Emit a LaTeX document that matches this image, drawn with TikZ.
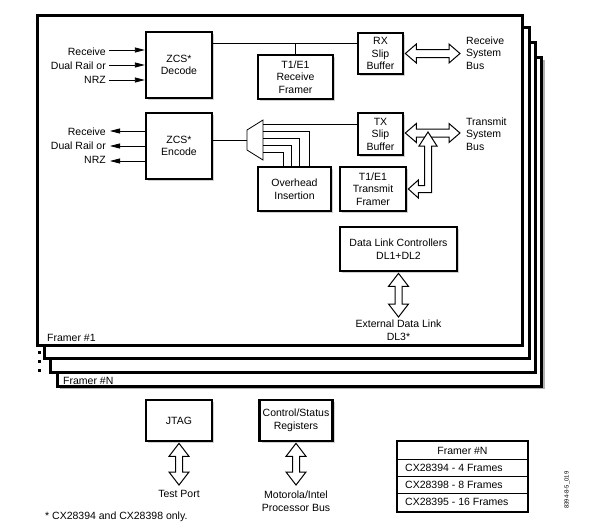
\documentclass[tikz,border=0pt]{standalone}
\usepackage{fontspec}
\setmainfont{Liberation Sans}
\usetikzlibrary{shadows,arrows.meta,calc}
\newcommand{\hdbl}[2]{\path[dbl] let \p1=(#1), \p2=(#2) in (\x1,\y1) -- (\x1+11pt,\y1+9.5pt) -- (\x1+11pt,\y1+4pt) -- (\x2-11pt,\y1+4pt) -- (\x2-11pt,\y1+9.5pt) -- (\x2,\y1) -- (\x2-11pt,\y1-9.5pt) -- (\x2-11pt,\y1-4pt) -- (\x1+11pt,\y1-4pt) -- (\x1+11pt,\y1-9.5pt) -- cycle;}
\newcommand{\vdbl}[2]{\path[dbl] let \p1=(#1), \p2=(#2) in (\x1,\y1) -- (\x1+10pt,\y1-13pt) -- (\x1+3.5pt,\y1-13pt) -- (\x1+3.5pt,\y2+13pt) -- (\x1+10pt,\y2+13pt) -- (\x1,\y2) -- (\x1-10pt,\y2+13pt) -- (\x1-3.5pt,\y2+13pt) -- (\x1-3.5pt,\y1-13pt) -- (\x1-10pt,\y1-13pt) -- cycle;}
\begin{document}
\begin{tikzpicture}[x=1pt,y=-1pt,
  every node/.style={font=\fontsize{10.5}{12.5}\selectfont, inner sep=0pt},
  blk/.style={draw, line width=2.3pt, fill=white, align=center,
    drop shadow={shadow xshift=2pt, shadow yshift=-2pt, fill=black!30, opacity=0.6}},
  frm/.style={draw, line width=3pt, fill=white},
  thinln/.style={line width=0.8pt},
  inarr/.style={line width=0.8pt, -{Triangle[length=10pt,width=5pt]}},
  dbl/.style={draw, line width=1pt, fill=white, line join=miter},
]
\useasboundingbox (0,0) rectangle (590,531);
% stacked framers
\fill[black!30] (60,60) rectangle (545,389);
\draw[frm] (57,57) rectangle (541,386);
\draw[frm] (50,42) rectangle (535,372);
\draw[frm] (44,27) rectangle (529,358);
\draw[frm] (37,15) rectangle (522,345);
\foreach \yy in {351,360,369} \fill (38,\yy) rectangle (40.5,\yy+2.5);
\node[anchor=west] (f1) at (47,338) {Framer \#1};
\node[anchor=west] (fn) at (63,381) {Framer \#N};

% blocks
\node[blk, minimum width=66pt, minimum height=66pt] (dec) at (179,65) {ZCS*\\Decode};
\node[blk, minimum width=66pt, minimum height=66pt] (enc) at (179,146) {ZCS*\\Encode};
\node[blk, minimum width=75pt, minimum height=44pt] (rxf) at (295.5,77) {T1/E1\\Receive\\Framer};
\node[blk, minimum width=45pt, minimum height=41pt] (rxs) at (380.5,53.5) {RX\\Slip\\Buffer};
\node[blk, minimum width=45pt, minimum height=42pt] (txs) at (380.5,134) {TX\\Slip\\Buffer};
\node[blk, minimum width=73pt, minimum height=44pt] (ohi) at (294.5,189) {Overhead\\Insertion};
\node[blk, minimum width=66pt, minimum height=44pt] (txf) at (373,189) {T1/E1\\Transmit\\Framer};
\node[blk, minimum width=117pt, minimum height=44pt] (dlc) at (398.5,249) {Data Link Controllers\\DL1+DL2};
\node[blk, minimum width=66pt, minimum height=41pt] (jtag) at (179,420.5) {JTAG};
\node[blk, minimum width=73pt, minimum height=41pt] (csr) at (296,420.5) {Control/Status\\Registers};

% line interfaces left
\node[anchor=east] (li1) at (106,52) {Receive};
\node[anchor=east] (li2) at (106,66) {Dual Rail or};
\node[anchor=east] (li3) at (106,80) {NRZ};
\coordinate (ia1) at (109,50); \coordinate (ia2) at (109,65); \coordinate (ia3) at (109,80);
\draw[inarr] (ia1) -- (dec.west |- ia1);
\draw[inarr] (ia2) -- (dec.west |- ia2);
\draw[inarr] (ia3) -- (dec.west |- ia3);
\node[anchor=east] (lo1) at (106,132) {Receive};
\node[anchor=east] (lo2) at (106,146) {Dual Rail or};
\node[anchor=east] (lo3) at (106,160) {NRZ};
\coordinate (oa1) at (110,131); \coordinate (oa2) at (110,146); \coordinate (oa3) at (110,161);
\draw[inarr] (enc.west |- oa1) -- (oa1);
\draw[inarr] (enc.west |- oa2) -- (oa2);
\draw[inarr] (enc.west |- oa3) -- (oa3);

% receive path
\draw[thinln] (dec.east |- 0,43) -- (rxs.west |- 0,43);
\draw[thinln] (rxf.north) -- (rxf.north |- 0,43);

% mux
\coordinate (mux) at (255,140);
\draw[thinln, fill=white] (247,130) -- (263,120) -- (263,160) -- (247,150) -- cycle;
\draw[thinln] (enc.east |- mux) -- (247,140);
\draw[thinln] (263,124) -- (txs.west |- 0,124);
\draw[thinln] (263,131) -| (ohi.north -| 309,0);
\draw[thinln] (263,138) -| (ohi.north -| 299,0);
\draw[thinln] (263,145) -| (ohi.north -| 291,0);
\draw[thinln] (263,152) -| (ohi.north -| 283,0);

% system bus arrows
\coordinate (rxbus) at (460,53.5);
\hdbl{[xshift=1.2pt]rxs.east}{rxbus}
\coordinate (txbus) at (460,133);
\hdbl{[xshift=1.2pt]txs.east |- txbus}{txbus}
\coordinate (txjoin) at (428,132);
\path[dbl] let \p1=(txjoin), \p2=([xshift=1.2pt]txf.east) in (\x1,\y1) -- (\x1+9pt,\y1-14pt) -- (\x1+3.5pt,\y1-14pt) -- (\x1+3.5pt,\y2-3.5pt) -- (\x2+10pt,\y2-3.5pt) -- (\x2+10pt,\y2-9pt) -- (\x2,\y2) -- (\x2+10pt,\y2+9pt) -- (\x2+10pt,\y2+3.5pt) -- (\x1-3.5pt,\y2+3.5pt) -- (\x1-3.5pt,\y1-14pt) -- (\x1-9pt,\y1-14pt) -- cycle;
\node[anchor=west, align=left] (rsb) at (466,53) {Receive\\System\\Bus};
\node[anchor=west, align=left] (tsb) at (466,134) {Transmit\\System\\Bus};

% data link
\coordinate (dle) at (398.5,317);
\vdbl{[yshift=-1.2pt]dlc.south}{dle}
\node[align=center] (edl) at (398.5,330) {External Data Link\\DL3*};

% bottom
\coordinate (tpe) at (179,485);
\vdbl{[yshift=-1.2pt]jtag.south}{tpe}
\node (tp) at (179,494) {Test Port};
\coordinate (mpe) at (296,485);
\vdbl{[yshift=-1.2pt]csr.south}{mpe}
\node[align=center] (mpb) at (296,501) {Motorola/Intel\\Processor Bus};
\node[anchor=west] (fnote) at (45,517) {* CX28394 and CX28398 only.};

% table
\draw[line width=0.8pt] (397,459) -- (528,459) (397,476) -- (528,476) (397,493) -- (528,493);
\draw[line width=2.6pt] (397,441) rectangle (528,512);
\node (th) at (462.5,450.5) {Framer \#N};
\node[anchor=west] (t1) at (405,467.5) {CX28394 - 4 Frames};
\node[anchor=west] (t2) at (405,484.5) {CX28398 - 8 Frames};
\node[anchor=west] (t3) at (405,502) {CX28395 - 16 Frames};
\node[rotate=90, font=\fontsize{6}{7}\selectfont] (fid) at (567,490) {8394-8-5\_019};
\end{tikzpicture}
\end{document}
